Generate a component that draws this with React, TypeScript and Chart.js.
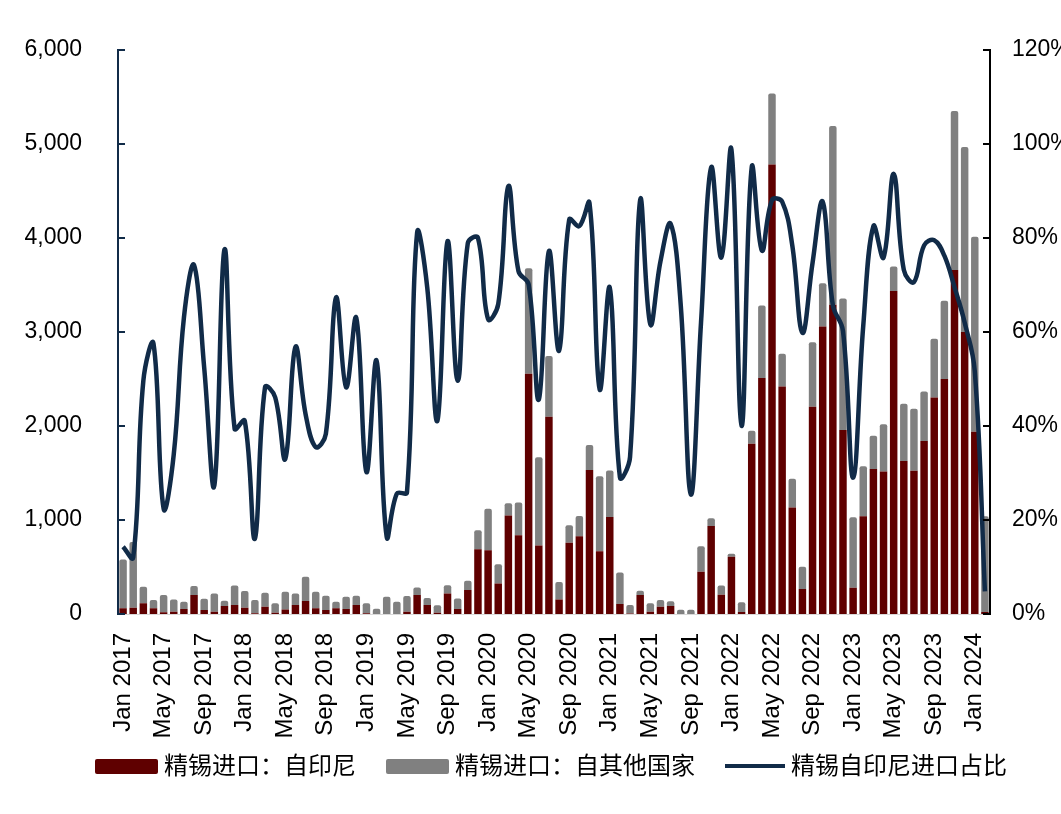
import { useEffect, useRef } from 'react';
import { Chart, registerables } from 'chart.js';

Chart.register(...registerables);

const MONTH_NAMES = ['Jan', 'Feb', 'Mar', 'Apr', 'May', 'Jun', 'Jul', 'Aug', 'Sep', 'Oct', 'Nov', 'Dec'];
const categories: string[] = [];
for (let y = 2017; y <= 2024; y++) {
  for (const m of MONTH_NAMES) categories.push(`${m} ${y}`);
}
categories.length = 86; // Jan 2017 .. Feb 2024

// 精锡进口：自印尼 (tonnes)
const fromIndonesia = [
  60, 67, 113, 60, 18, 25, 53, 201, 42, 25, 85, 95,
  67, 7, 78, 14, 49, 95, 138, 60, 42, 60, 53, 95,
  7, 0, 0, 0, 25, 201, 95, 14, 219, 53, 254, 688,
  678, 325, 1048, 837, 2556, 728, 2097, 155, 759, 826, 1532, 667,
  1031, 106, 5, 201, 25, 78, 85, 0, 0, 450, 935, 205,
  610, 20, 1810, 2510, 4780, 2420, 1133, 267, 2203, 3057, 3288, 1958,
  279, 1040, 1542, 1516, 3436, 1627, 1523, 1839, 2303, 2500, 3659, 2998,
  1939, 20,
];

// 精锡进口：自其他国家 (tonnes)
const fromOthers = [
  519, 699, 176, 88, 183, 130, 77, 96, 120, 194, 56, 209,
  177, 141, 148, 99, 188, 124, 257, 177, 152, 71, 131, 99,
  106, 56, 184, 131, 166, 81, 74, 78, 88, 113, 99, 202,
  441, 205, 131, 349, 1122, 938, 646, 184, 184, 215, 265, 798,
  494, 335, 90, 46, 88, 70, 50, 45, 45, 270, 83, 98,
  32, 105, 140, 770, 755, 348, 305, 235, 687, 461, 1902, 1397,
  750, 531, 353, 501, 260, 609, 661, 527, 624, 832, 1691, 1969,
  2073, 1020,
];

// 精锡自印尼进口占比 (%)
const indonesiaShare = [
  14.3, 12, 49.6, 57.5, 22.4, 34, 63, 74.2, 52.4, 27.3, 77.5, 39.4,
  41.1, 16, 48.2, 46.1, 33, 56.8, 42.5, 35.5, 38.3, 67.3, 48.2, 63,
  30.2, 53.9, 16.4, 25.6, 25.9, 81.1, 69.4, 41.1, 79.3, 49.6, 78.9, 80,
  62.7, 65.9, 91, 72.9, 70.1, 45.6, 77.2, 56, 83.9, 82.5, 87.4, 47.8,
  69.4, 29.1, 33.4, 88.1, 61.6, 75, 83, 65.7, 25.4, 62, 95, 75.8,
  98.8, 40, 95, 77.3, 88, 87.7, 78.4, 59.8, 74.7, 87.7, 65.7, 60.2,
  29, 61.3, 82.5, 75.8, 93.6, 73.2, 70.6, 78.4, 79.5, 76.2, 69.5, 62,
  51.6, 4.8,
];

const seriesNames = ['精锡进口：自印尼', '精锡进口：自其他国家', '精锡自印尼进口占比'];

const RED = '#5f0000';
const GRAY = '#808080';
const NAVY = '#112b48';
const FONT = '"Liberation Sans", Arial, "Noto Sans CJK SC", sans-serif';

// short tick marks pointing into the plot, like the source chart
const inwardTicks = {
  id: 'inwardTicks',
  afterDraw(chart: any) {
    const { ctx, chartArea, scales } = chart;
    ctx.save();
    ctx.lineWidth = 2;
    ctx.strokeStyle = NAVY;
    scales.y.ticks.forEach((_: any, i: number) => {
      const py = Math.round(scales.y.getPixelForTick(i));
      ctx.beginPath();
      ctx.moveTo(chartArea.left, py);
      ctx.lineTo(chartArea.left + 7, py);
      ctx.stroke();
    });
    ctx.strokeStyle = '#000';
    scales.y1.ticks.forEach((_: any, i: number) => {
      const py = Math.round(scales.y1.getPixelForTick(i));
      ctx.beginPath();
      ctx.moveTo(chartArea.right - 7, py);
      ctx.lineTo(chartArea.right, py);
      ctx.stroke();
    });
    ctx.restore();
  },
};

function Legend() {
  const item = { display: 'flex', alignItems: 'center', gap: 6 } as const;
  const box = (bg: string) => ({ width: 63, height: 15, background: bg, borderRadius: 2 });
  return (
    <div
      style={{
        position: 'absolute',
        left: 95,
        top: 751,
        display: 'flex',
        gap: 30,
        fontFamily: FONT,
        fontSize: 24,
        lineHeight: '30px',
        color: '#000',
        whiteSpace: 'nowrap',
      }}
    >
      <span style={item}>
        <span style={box(RED)} />
        {seriesNames[0]}
      </span>
      <span style={item}>
        <span style={box(GRAY)} />
        {seriesNames[1]}
      </span>
      <span style={item}>
        <span style={{ width: 60, height: 4, background: NAVY }} />
        {seriesNames[2]}
      </span>
    </div>
  );
}

export default function App() {
  const canvasRef = useRef<HTMLCanvasElement>(null);
  const chartRef = useRef<Chart | null>(null);

  useEffect(() => {
    if (!canvasRef.current) return;
    if (chartRef.current) chartRef.current.destroy();

    chartRef.current = new Chart(canvasRef.current, {
      type: 'bar',
      data: {
        labels: categories,
        datasets: [
          {
            label: seriesNames[0],
            data: fromIndonesia,
            backgroundColor: RED,
            borderWidth: 0,
            borderRadius: 2,
            barPercentage: 0.9,
            categoryPercentage: 0.82,
            order: 1,
          },
          {
            label: seriesNames[1],
            data: fromOthers,
            backgroundColor: GRAY,
            borderWidth: 0,
            borderRadius: 2,
            barPercentage: 0.9,
            categoryPercentage: 0.82,
            order: 1,
          },
          {
            type: 'line',
            label: seriesNames[2],
            data: indonesiaShare,
            yAxisID: 'y1',
            borderColor: NAVY,
            backgroundColor: NAVY,
            borderWidth: 4.5,
            pointRadius: 0,
            tension: 0.4,
            order: 0,
          } as any,
        ],
      },
      options: {
        responsive: true,
        maintainAspectRatio: false,
        animation: false,
        layout: { padding: { top: 49, bottom: 60, left: 0, right: 0 } },
        font: { family: FONT },
        plugins: {
          tooltip: { enabled: false },
          legend: { display: false },
        },
        scales: {
          x: {
            stacked: true,
            grid: { display: false, drawTicks: false },
            border: { display: true, color: '#d9d9d9', width: 1 },
            ticks: {
              autoSkip: false,
              minRotation: 90,
              maxRotation: 90,
              padding: 19,
              color: '#000',
              font: { family: FONT, size: 24 },
              callback: (_v: any, i: number) => (i % 4 === 0 ? categories[i] : ''),
            },
            afterFit: (s: any) => {
              s.height = 140;
            },
          },
          y: {
            stacked: true,
            min: 0,
            max: 6000,
            grid: { display: false, drawTicks: false },
            border: { display: true, color: NAVY, width: 2 },
            ticks: {
              stepSize: 1000,
              padding: 36,
              color: '#000',
              font: { family: FONT, size: 23 },
              callback: (v: any) => Number(v).toLocaleString('en-US'),
            },
            afterFit: (s: any) => {
              s.width = 118;
            },
          },
          y1: {
            position: 'right',
            min: 0,
            max: 120,
            grid: { display: false, drawTicks: false },
            border: { display: true, color: '#000', width: 2 },
            ticks: {
              stepSize: 20,
              padding: 22,
              color: '#000',
              font: { family: FONT, size: 23 },
              callback: (v: any) => `${v}%`,
            },
            afterFit: (s: any) => {
              s.width = 110;
            },
          },
        },
      },
      plugins: [inwardTicks],
    });

    return () => chartRef.current?.destroy();
  }, []);

  return (
    <div
      style={{
        position: 'fixed',
        left: 0,
        top: 0,
        width: 1061,
        height: 814,
        overflow: 'hidden',
        background: '#fff',
      }}
    >
      <div style={{ position: 'relative', width: 1100, height: 814 }}>
        <canvas ref={canvasRef} />
      </div>
      <Legend />
    </div>
  );
}
